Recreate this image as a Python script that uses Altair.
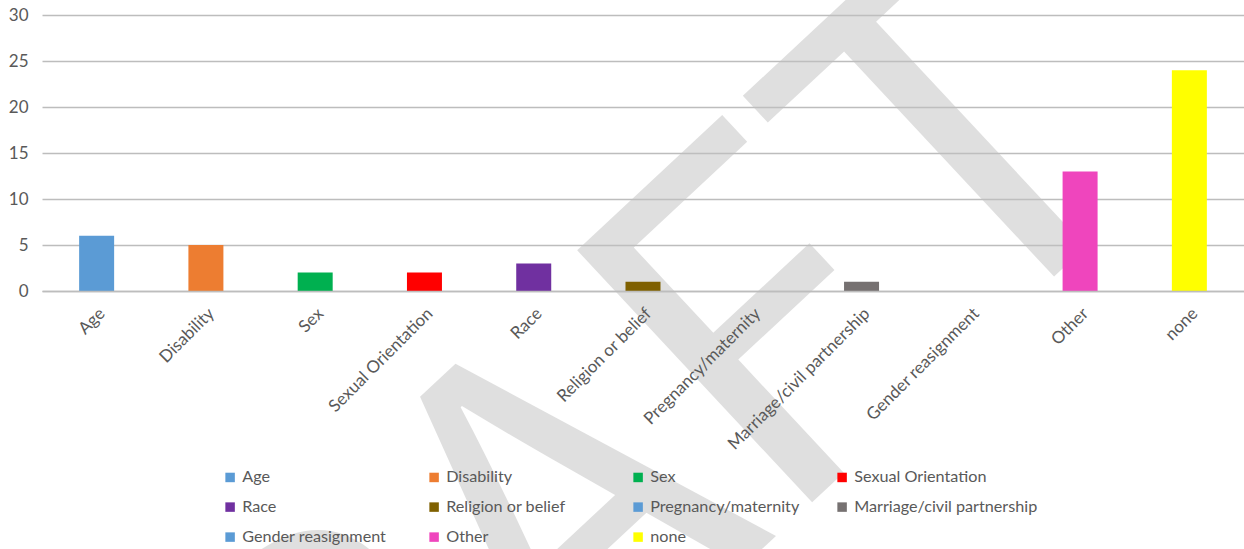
import altair as alt
import pandas as pd

categories = ["Age", "Disability", "Sex", "Sexual Orientation", "Race",
              "Religion or belief", "Pregnancy/maternity",
              "Marriage/civil partnership", "Gender reasignment", "Other", "none"]
counts = [6, 5, 2, 2, 3, 1, 0, 1, 0, 13, 24]
colors = ["#5B9BD5", "#ED7D31", "#00B050", "#FF0000", "#7030A0", "#7F6000",
          "#5B9BD5", "#767171", "#5B9BD5", "#EF45BD", "#FFFF00"]
y_ticks = [0, 5, 10, 15, 20, 25, 30]
watermark = ["DRAFT"]

df = pd.DataFrame({"category": categories, "count": counts})
wm = pd.DataFrame({"t": watermark})

FONT = "Lato"
WM_FONT = "Noto Sans CJK SC"
TEXT = "#595959"
GRID = "#bdbdbd"

mark_wm = alt.Chart(wm).mark_text(
    angle=317, fontSize=470, font=WM_FONT,
    color="#c0c0c0", opacity=0.5, align="center", baseline="alphabetic"
).encode(text="t:N", x=alt.value(602), y=alt.value(644))

bars = alt.Chart(df).mark_bar(size=35).encode(
    x=alt.X("category:N", sort=categories, title=None,
            scale=alt.Scale(paddingInner=0, paddingOuter=0),
            axis=alt.Axis(labelAngle=-45, labelFont=FONT, labelFontSize=17,
                          labelColor=TEXT, domainColor=GRID, domainWidth=1.3,
                          ticks=False, labelPadding=14, labelLimit=400,
                          labelOverlap=False, grid=False, zindex=1)),
    y=alt.Y("count:Q", title=None, scale=alt.Scale(domain=[0, 30], nice=False),
            axis=alt.Axis(values=y_ticks, labelFont=FONT, labelFontSize=17,
                          labelColor=TEXT, domain=False, ticks=False,
                          labelPadding=14, gridColor=GRID, gridWidth=1.3)),
    color=alt.Color("category:N", sort=categories,
                    scale=alt.Scale(domain=categories, range=colors),
                    legend=alt.Legend(orient="none", legendX=180, legendY=454,
                                      direction="horizontal",
                                      columns=4, gridAlign="all",
                                      columnPadding=0, rowPadding=13,
                                      symbolType="square", symbolSize=90,
                                      symbolStrokeWidth=0, labelFont=FONT,
                                      labelFontSize=16.2, labelColor=TEXT,
                                      labelLimit=400, labelOffset=4, title=None,
                                      zindex=1))
)

chart = alt.layer(mark_wm, bars).properties(
    width=1202, height=276,
    autosize=alt.AutoSizeParams(type="none"),
    padding={"left": 42, "top": 15, "right": 0, "bottom": 258}
).configure_view(stroke=None)

chart.save("out.html", embed_options={"renderer": "svg", "actions": False})
